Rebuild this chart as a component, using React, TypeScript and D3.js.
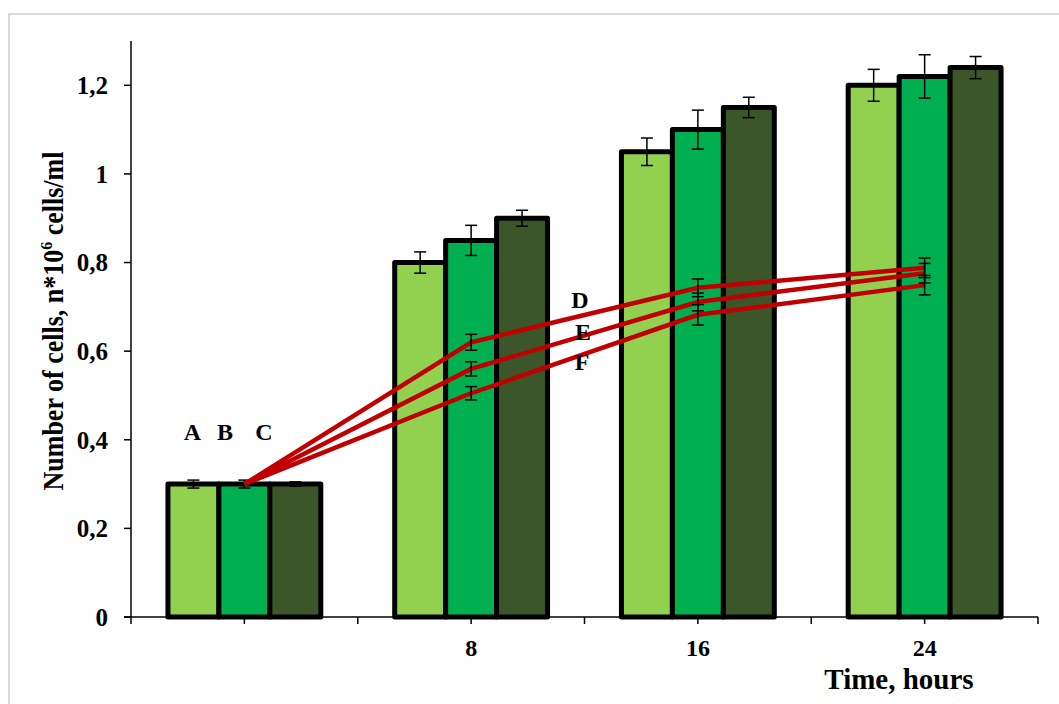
import * as d3 from "d3";

// categories (hours) and bar series
const times = ["0", "8", "16", "24"];
const timeLabels = ["", "8", "16", "24"];
const barSeries = ["A", "B", "C"];
const barColors = ["#92D050", "#00B050", "#3B5628"];

const barA = [0.3, 0.8, 1.05, 1.2];
const barB = [0.3, 0.85, 1.1, 1.22];
const barC = [0.3, 0.9, 1.15, 1.24];
const errA = [0.009, 0.024, 0.031, 0.036];
const errB = [0.009, 0.034, 0.044, 0.049];
const errC = [0.005, 0.018, 0.023, 0.025];

// line series
const lineSeries = ["D", "E", "F"];
const lineD = [0.3, 0.62, 0.743, 0.788];
const lineE = [0.3, 0.56, 0.711, 0.776];
const lineF = [0.3, 0.505, 0.682, 0.749];
const errD = [0, 0.018, 0.02, 0.022];
const errE = [0, 0.016, 0.02, 0.022];
const errF = [0, 0.015, 0.023, 0.022];

const yTicks = [0, 0.2, 0.4, 0.6, 0.8, 1, 1.2];

const W = 1059;
const H = 704;
const FONT = "'Liberation Serif', 'Times New Roman', serif";

const commaLocale = d3.formatLocale({ decimal: ",", thousands: " ", grouping: [3], currency: ["", ""] });
const fmt = commaLocale.format(".2~f");

export default function App() {
  const left = 131, right = 1038, top = 41, bottom = 617;

  const x = d3.scaleBand().domain(times).range([left, right]).padding(0);
  const xInner = d3.scaleBand().domain(barSeries).range([0, x.bandwidth()]).paddingInner(0).paddingOuter(0.725);
  const y = d3.scaleLinear().domain([0, 1.3]).range([bottom, top]);

  const barVals = [barA, barB, barC];
  const barErrs = [errA, errB, errC];
  const lineVals = [lineD, lineE, lineF];
  const lineErrs = [errD, errE, errF];

  const cx = (t: string) => (x(t) ?? 0) + x.bandwidth() / 2;
  const line = d3.line<number>().x((_, i) => cx(times[i])).y((v) => y(v));

  // ticks at band edges and centres
  const xTickPos: number[] = [];
  times.forEach((t) => {
    xTickPos.push(x(t)!);
    xTickPos.push(cx(t));
  });
  xTickPos.push(right);

  const cap = 6;

  return (
    <svg width={W} height={H} style={{ position: "absolute", left: 0, top: 0 }} fontFamily={FONT}>
      <rect x={9} y={14} width={1200} height={900} fill="#fff" stroke="#d9d9d9" strokeWidth={2} />

      {/* bars */}
      {barSeries.map((s, si) =>
        times.map((t, ti) => {
          const bx = x(t)! + xInner(s)!;
          return (
            <rect
              key={s + t}
              x={bx}
              y={y(barVals[si][ti])}
              width={xInner.bandwidth()}
              height={y(0) - y(barVals[si][ti])}
              fill={barColors[si]}
              stroke="#000"
              strokeWidth={5}
              strokeLinejoin="round"
            />
          );
        })
      )}

      {/* bar error bars */}
      {barSeries.map((s, si) =>
        times.map((t, ti) => {
          const ex = x(t)! + xInner(s)! + xInner.bandwidth() / 2;
          const v = barVals[si][ti];
          const e = barErrs[si][ti];
          return (
            <g key={"e" + s + t} stroke="#000" strokeWidth={1.5}>
              <line x1={ex} x2={ex} y1={y(v + e)} y2={y(v - e)} />
              <line x1={ex - cap} x2={ex + cap} y1={y(v + e)} y2={y(v + e)} />
              <line x1={ex - cap} x2={ex + cap} y1={y(v - e)} y2={y(v - e)} />
            </g>
          );
        })
      )}

      {/* axes */}
      <g stroke="#000" strokeWidth={1.5}>
        <line x1={left} x2={left} y1={top} y2={bottom} />
        <line x1={left - 7} x2={right} y1={bottom} y2={bottom} />
        {yTicks.map((v) => (
          <line key={"yt" + v} x1={left - 7} x2={left} y1={y(v)} y2={y(v)} />
        ))}
        {xTickPos.map((p, i) => (
          <line key={"xt" + i} x1={p} x2={p} y1={bottom} y2={bottom + 7} />
        ))}
      </g>

      {yTicks.map((v) => (
        <text key={"yl" + v} x={left - 23} y={y(v)} dy="0.35em" textAnchor="end" fontSize={25} fontWeight="bold">
          {fmt(v)}
        </text>
      ))}
      {times.map((t, i) => (
        <text key={"xl" + t} x={cx(t)} y={bottom + 39} textAnchor="middle" fontSize={24} fontWeight="bold">
          {timeLabels[i]}
        </text>
      ))}

      {/* red lines */}
      {lineSeries.map((s, si) => (
        <path key={"l" + s} d={line(lineVals[si]) ?? ""} fill="none" stroke="#C00000" strokeWidth={4.5} />
      ))}
      {lineSeries.map((s, si) =>
        times.map((t, ti) => {
          const e = lineErrs[si][ti];
          if (!e) return null;
          const v = lineVals[si][ti];
          const ex = cx(t);
          return (
            <g key={"le" + s + t} stroke="#000" strokeWidth={1.5}>
              <line x1={ex} x2={ex} y1={y(v + e)} y2={y(v - e)} />
              <line x1={ex - cap} x2={ex + cap} y1={y(v + e)} y2={y(v + e)} />
              <line x1={ex - cap} x2={ex + cap} y1={y(v - e)} y2={y(v - e)} />
            </g>
          );
        })
      )}

      {/* series annotations */}
      <g fontSize={24} fontWeight="bold" textAnchor="middle">
        <text x={x("0")! + xInner("A")! + xInner.bandwidth() / 2 - 1} y={440}>A</text>
        <text x={x("0")! + xInner("B")! + 6} y={440}>B</text>
        <text x={x("0")! + xInner("C")! - 6} y={440}>C</text>
        <text x={580} y={308}>D</text>
        <text x={583} y={340}>E</text>
        <text x={582} y={370}>F</text>
      </g>

      {/* axis titles */}
      <text
        transform={`translate(${63},${321}) rotate(-90) scale(1,1.1)`}
        textAnchor="middle"
        fontSize={26}
        fontWeight="bold"
      >
        Number of cells, n*10<tspan fontSize={16} dy={-10}>6</tspan>
        <tspan dy={10}> cells/ml</tspan>
      </text>
      <text x={899} y={689} textAnchor="middle" fontSize={29} fontWeight="bold">
        Time, hours
      </text>
    </svg>
  );
}
